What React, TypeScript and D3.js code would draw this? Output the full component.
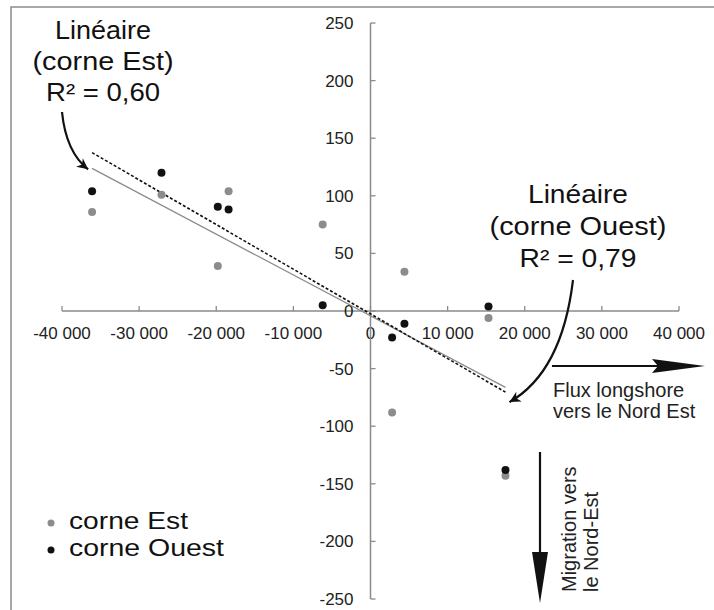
import React from 'react';
import * as d3 from 'd3';

// volume du flux longshore (m3) et migration des cornes (m)
const flux = [-36100, -27100, -19800, -18400, -6200, 2800, 4400, 15300, 17500];
const corneEst = [86, 101, 39, 104, 75, -88, 34, -6, -143];
const corneOuest = [104, 120, 90.5, 88, 5, -23, -11, 4, -138];
const xTicks = [-40000, -30000, -20000, -10000, 0, 10000, 20000, 30000, 40000];
const yTicks = [-250, -200, -150, -100, -50, 0, 50, 100, 150, 200, 250];
const seriesNames = ['corne Est', 'corne Ouest'];
const fitLabels = [
  ['Linéaire', '(corne Est)', 'R² = 0,60'],
  ['Linéaire', '(corne Ouest)', 'R² = 0,79'],
];

const W = 714;
const H = 610;
const FONT = '"Liberation Sans", Arial, sans-serif';

const fr = d3.formatLocale({
  decimal: ',',
  thousands: ' ',
  grouping: [3],
  currency: ['', ' €'],
  minus: '-',
});
const fmt = fr.format(',d');

function linFit(xs: number[], ys: number[]) {
  const mx = d3.mean(xs) as number;
  const my = d3.mean(ys) as number;
  const sxy = d3.sum(xs, (v, i) => (v - mx) * (ys[i] - my));
  const sxx = d3.sum(xs, (v) => (v - mx) * (v - mx));
  const slope = sxy / sxx;
  const icpt = my - slope * mx;
  return (v: number) => icpt + slope * v;
}

export default function App() {
  const x = d3.scaleLinear().domain([-40000, 40000]).range([62, 679]);
  const y = d3.scaleLinear().domain([-250, 250]).range([599, 23]);
  const x0 = x(0);
  const y0 = y(0);

  const [xMin, xMax] = d3.extent(flux) as [number, number];
  const fitEst = linFit(flux, corneEst);
  const fitOuest = linFit(flux, corneOuest);
  const line = d3
    .line<number>()
    .x((d) => x(d));

  const estPath = line.y((d) => y(fitEst(d)))([xMin, xMax]);
  const ouestPath = line.y((d) => y(fitOuest(d)))([xMin, xMax]);

  const estTip = [x(xMin), y(fitEst(xMin))];
  const ouestTip = [x(xMax) + 4, y(fitOuest(xMax)) + 10];

  const axisCol = '#8a8a8a';
  const grey = '#8c8c8c';
  const black = '#111';

  return (
    <svg
      width={W}
      height={H}
      style={{ position: 'absolute', left: 0, top: 0, background: '#fff' }}
      fontFamily={FONT}
    >
      <defs>
        <marker
          id="head"
          viewBox="0 0 10 10"
          refX={10}
          refY={5}
          markerWidth={14}
          markerHeight={11}
          markerUnits="userSpaceOnUse"
          orient="auto"
        >
          <path d="M0,0 L10,5 L0,10 L3,5 z" fill="#111" />
        </marker>
      </defs>
      <rect x={11} y={7} width={W + 20} height={H + 20} fill="none" stroke="#8c8c8c" strokeWidth={1.5} />

      {/* axes */}
      <line x1={x(-40000)} x2={x(40000)} y1={y0} y2={y0} stroke={axisCol} strokeWidth={1.5} />
      {xTicks.map((t) => (
        <g key={'xt' + t}>
          <line x1={x(t)} x2={x(t)} y1={y0} y2={y0 - 5} stroke={axisCol} strokeWidth={1.3} />
          <text x={x(t)} y={y0 + 28} textAnchor="middle" fontSize={17} fill="#222">
            {fmt(t)}
          </text>
        </g>
      ))}
      <line x1={x0} x2={x0} y1={y(250)} y2={y(-250)} stroke={axisCol} strokeWidth={1.5} />
      {yTicks.map((t) => (
        <g key={'yt' + t}>
          <line x1={x0} x2={x0 + 5} y1={y(t)} y2={y(t)} stroke={axisCol} strokeWidth={1.3} />
          <text x={x0 - 17} y={y(t) + 6} textAnchor="end" fontSize={17} fill="#222">
            {fmt(t)}
          </text>
        </g>
      ))}

      {/* tendances */}
      <path d={estPath || ''} fill="none" stroke={grey} strokeWidth={1.3} />
      <path d={ouestPath || ''} fill="none" stroke={black} strokeWidth={1.6} strokeDasharray="3,2" />

      {/* points */}
      {flux.map((f, i) => (
        <circle key={'e' + i} cx={x(f)} cy={y(corneEst[i])} r={4} fill={grey} />
      ))}
      {flux.map((f, i) => (
        <circle key={'o' + i} cx={x(f)} cy={y(corneOuest[i])} r={4} fill={black} />
      ))}

      {/* annotations */}
      {fitLabels[0].map((s, i) => (
        <text
          key={'la' + i}
          x={103}
          y={39 + i * 31}
          textAnchor="middle"
          fontSize={25}
          fill="#111"
          textLength={[96, 141, 114][i]}
          lengthAdjust="spacingAndGlyphs"
        >
          {s}
        </text>
      ))}
      <path
        d={`M62,112 Q66,152 ${estTip[0] - 4},${estTip[1] + 1}`}
        fill="none"
        stroke="#111"
        strokeWidth={2.2}
        markerEnd="url(#head)"
      />
      {fitLabels[1].map((s, i) => (
        <text
          key={'ra' + i}
          x={578}
          y={203 + i * 32}
          textAnchor="middle"
          fontSize={25}
          fill="#111"
          textLength={[100, 177, 117][i]}
          lengthAdjust="spacingAndGlyphs"
        >
          {s}
        </text>
      ))}
      <path
        d={`M573,280 Q562,372 ${ouestTip[0]},${ouestTip[1]}`}
        fill="none"
        stroke="#111"
        strokeWidth={2.2}
        markerEnd="url(#head)"
      />

      {/* flux longshore */}
      <line x1={552} x2={660} y1={366} y2={366} stroke="#111" strokeWidth={2.2} />
      <polygon points="652,359 705,366 652,373 658,366" fill="#111" />
      <text x={553} y={397} fontSize={20} fill="#222">Flux longshore</text>
      <text x={553} y={418} fontSize={20} fill="#222">vers le Nord Est</text>

      {/* migration */}
      <line x1={540} x2={540} y1={452} y2={560} stroke="#111" strokeWidth={2.2} />
      <polygon points="532,552 548,552 540,603" fill="#111" />
      <text transform="translate(576,592) rotate(-90)" fontSize={20} fill="#222">Migration vers</text>
      <text transform="translate(598,592) rotate(-90)" fontSize={20} fill="#222">le Nord-Est</text>

      {/* légende */}
      {seriesNames.map((s, i) => (
        <g key={'lg' + i}>
          <circle cx={51} cy={523 + i * 27} r={3.5} fill={i === 0 ? grey : black} />
          <text
            x={69}
            y={529 + i * 27}
            fontSize={23}
            fill="#111"
            textLength={[119, 155][i]}
            lengthAdjust="spacingAndGlyphs"
          >
            {s}
          </text>
        </g>
      ))}
    </svg>
  );
}
